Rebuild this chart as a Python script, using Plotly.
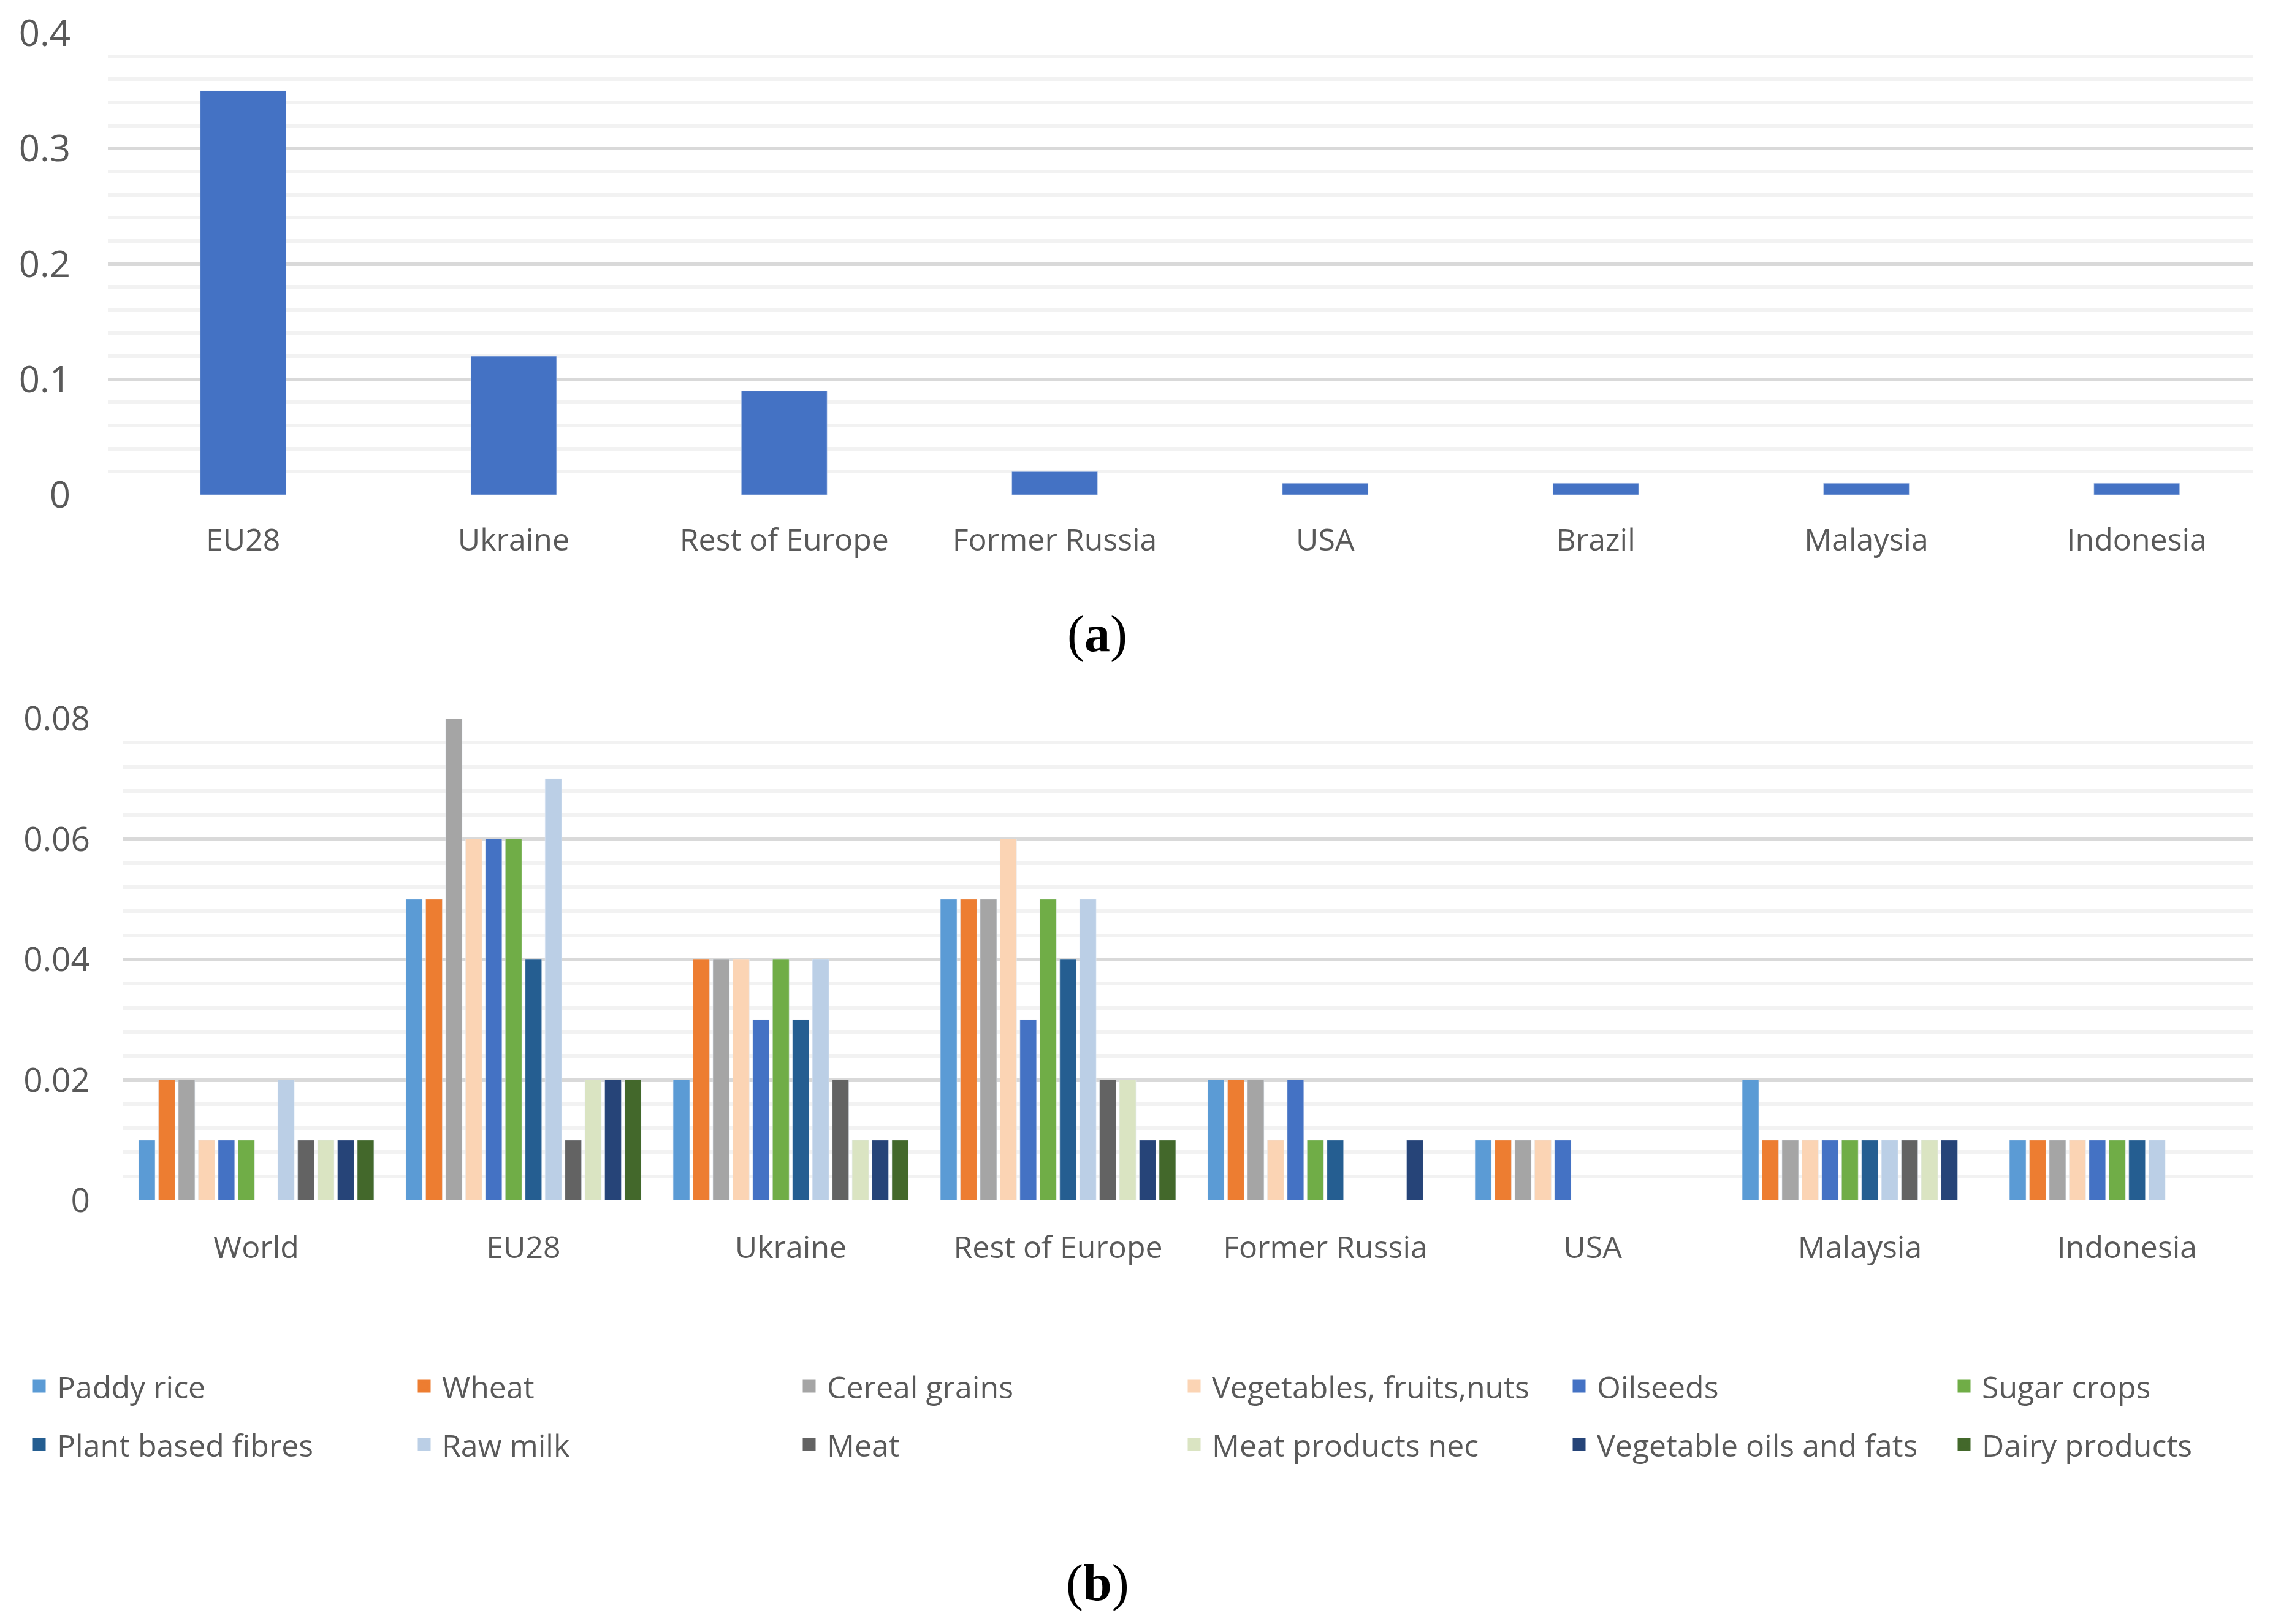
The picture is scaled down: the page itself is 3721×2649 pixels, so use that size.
import plotly.graph_objects as go

W, H = 3721, 2649

# ---------------- data ----------------
regions_a = ["EU28", "Ukraine", "Rest of Europe", "Former Russia", "USA", "Brazil", "Malaysia", "Indonesia"]
values_a = [0.35, 0.12, 0.09, 0.02, 0.01, 0.01, 0.01, 0.01]

regions_b = ["World", "EU28", "Ukraine", "Rest of Europe", "Former Russia", "USA", "Malaysia", "Indonesia"]
sectors = ["Paddy rice", "Wheat", "Cereal grains", "Vegetables, fruits,nuts", "Oilseeds", "Sugar crops",
           "Plant based fibres", "Raw milk", "Meat", "Meat products nec", "Vegetable oils and fats", "Dairy products"]

paddy_rice = [0.01, 0.05, 0.02, 0.05, 0.02, 0.01, 0.02, 0.01]
wheat = [0.02, 0.05, 0.04, 0.05, 0.02, 0.01, 0.01, 0.01]
cereal_grains = [0.02, 0.08, 0.04, 0.05, 0.02, 0.01, 0.01, 0.01]
vegetables_fruits_nuts = [0.01, 0.06, 0.04, 0.06, 0.01, 0.01, 0.01, 0.01]
oilseeds = [0.01, 0.06, 0.03, 0.03, 0.02, 0.01, 0.01, 0.01]
sugar_crops = [0.01, 0.06, 0.04, 0.05, 0.01, 0.0, 0.01, 0.01]
plant_based_fibres = [0.0, 0.04, 0.03, 0.04, 0.01, 0.0, 0.01, 0.01]
raw_milk = [0.02, 0.07, 0.04, 0.05, 0.0, 0.0, 0.01, 0.01]
meat = [0.01, 0.01, 0.02, 0.02, 0.0, 0.0, 0.01, 0.0]
meat_products_nec = [0.01, 0.02, 0.01, 0.02, 0.0, 0.0, 0.01, 0.0]
vegetable_oils_fats = [0.01, 0.02, 0.01, 0.01, 0.01, 0.0, 0.01, 0.0]
dairy_products = [0.01, 0.02, 0.01, 0.01, 0.0, 0.0, 0.0, 0.0]

series_b = [paddy_rice, wheat, cereal_grains, vegetables_fruits_nuts, oilseeds, sugar_crops,
            plant_based_fibres, raw_milk, meat, meat_products_nec, vegetable_oils_fats, dairy_products]

colors_b = ["#5B9BD5", "#ED7D31", "#A5A5A5", "#FBD4B4", "#4472C4", "#70AD47",
            "#255E91", "#BBCFE6", "#636363", "#DAE4C2", "#264478", "#43682B"]
color_a = "#4472C4"

# ---------------- styling ----------------
FONT = "Open Sans"
TXT = "#595959"
MAJ = "#D9D9D9"
MIN = "#F2F2F2"
GW = 6
PAGE_OFF = 8  # default page margin around the figure


def px_x(p):
    return (p - PAGE_OFF) / W


def px_y(p):
    return 1 - (p - PAGE_OFF) / H


fig = go.Figure()

# panel (a)
fig.add_trace(go.Bar(x=regions_a, y=values_a, marker_color=color_a, showlegend=False,
                     xaxis="x", yaxis="y", name="Total", width=0.317))

# panel (b)
for name, vals, col in zip(sectors, series_b, colors_b):
    fig.add_trace(go.Bar(x=regions_b, y=vals, name=name, marker_color=col,
                         xaxis="x2", yaxis="y2", showlegend=False, legendgroup=name))

# legend entries (one legend per entry, placed in a 6 x 2 grid)
col_left = [48, 676, 1304, 1932, 2560, 3188]
row_y = [2261, 2356]
SYM_OFF = 13
legend_layout = {}
for i, (name, col) in enumerate(zip(sectors, colors_b)):
    key = "legend" if i == 0 else f"legend{i + 1}"
    r, c = divmod(i, 6)
    fig.add_trace(go.Scatter(x=[None], y=[None], name=name, mode="markers",
                             marker=dict(symbol="square", size=16, color=col, line=dict(color=col, width=5)),
                             xaxis="x3", yaxis="y3", showlegend=True, legendgroup=name, legend=key))
    legend_layout[key] = dict(
        x=px_x(col_left[c] - SYM_OFF), y=px_y(row_y[r]), xanchor="left", yanchor="middle",
        orientation="h", bgcolor="rgba(0,0,0,0)", borderwidth=0, itemwidth=48,
        font=dict(family=FONT, size=50, color=TXT),
    )

# x ranges: gridlines stop a little short of the last category edge (as in the source)
xa_left, xa_right, pitch_a = 176, 3675, 441.3
xb_left, xb_right, pitch_b = 200, 3675, 436.0

fig.update_layout(
    width=W, height=H,
    margin=dict(l=0, r=0, t=0, b=0, autoexpand=False),
    paper_bgcolor="white", plot_bgcolor="white",
    barmode="group",
    bargap=0.107, bargroupgap=0.17,
    font=dict(family=FONT, color=TXT),
    xaxis=dict(domain=[px_x(xa_left), px_x(xa_right)], anchor="y", showgrid=False, showline=False,
               zeroline=False, automargin=False,
               range=[-0.5, -0.5 + (xa_right - xa_left) / pitch_a],
               ticks="", tickfont=dict(size=50, color=TXT), ticklabelstandoff=40),
    yaxis=dict(domain=[px_y(807), px_y(54)], anchor="x", range=[0, 0.4], dtick=0.1, tick0=0,
               automargin=False,
               showgrid=True, gridcolor=MAJ, gridwidth=GW, zeroline=False, showline=False, ticks="",
               tickfont=dict(size=60, color=TXT), ticklabelstandoff=60,
               minor=dict(dtick=0.02, tick0=0, showgrid=True, gridcolor=MIN, gridwidth=GW)),
    xaxis2=dict(domain=[px_x(xb_left), px_x(xb_right)], anchor="y2", showgrid=False, showline=False,
                zeroline=False, automargin=False,
                range=[-0.5, -0.5 + (xb_right - xb_left) / pitch_b],
                ticks="", tickfont=dict(size=50, color=TXT), ticklabelstandoff=43),
    yaxis2=dict(domain=[px_y(1958), px_y(1172)], anchor="x2", range=[0, 0.08], dtick=0.02, tick0=0,
                automargin=False,
                showgrid=True, gridcolor=MAJ, gridwidth=GW, zeroline=False, showline=False, ticks="",
                tickfont=dict(size=55, color=TXT), ticklabelstandoff=52,
                minor=dict(dtick=0.004, tick0=0, showgrid=True, gridcolor=MIN, gridwidth=GW)),
    xaxis3=dict(domain=[0, 0.001], anchor="y3", visible=False, automargin=False),
    yaxis3=dict(domain=[0, 0.001], anchor="x3", visible=False, automargin=False),
    annotations=[
        dict(text="(<b>a</b>)", x=px_x(1790), y=px_y(1034), xref="paper", yref="paper",
             xanchor="center", yanchor="middle", showarrow=False,
             font=dict(family="Liberation Serif", size=84, color="black")),
        dict(text="(<b>b</b>)", x=px_x(1790), y=px_y(2582), xref="paper", yref="paper",
             xanchor="center", yanchor="middle", showarrow=False,
             font=dict(family="Liberation Serif", size=84, color="black")),
    ],
    **legend_layout,
)

fig.write_html("out.html")
